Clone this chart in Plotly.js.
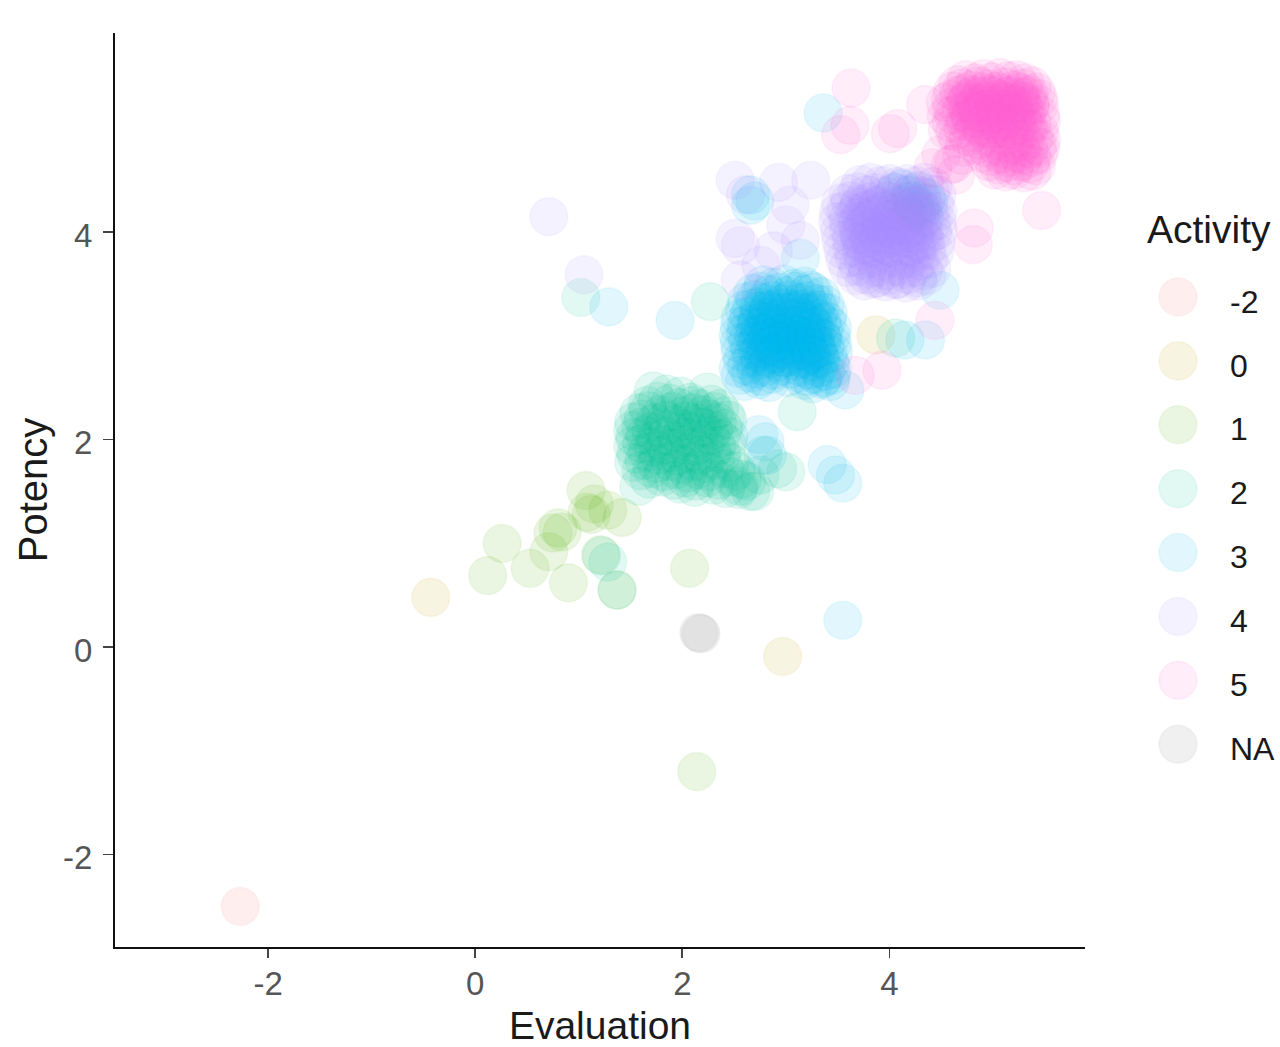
<!DOCTYPE html>
<html><head><meta charset="utf-8">
<script src="https://cdn.plot.ly/plotly-3.0.1.min.js"></script>
<style>html,body{margin:0;padding:0;background:#fff}</style></head>
<body><div id="chart" style="width:1280px;height:1047px"></div>
<script>
const legendLabels=["-2","0","1","2","3","4","5","NA"];
const colours=["248,118,109","196,154,0","83,180,0","0,192,148","0,182,235","165,138,255","251,97,215","127,127,127"];

const xNA=[2.16,2.18];
const yNA=[0.14,0.13];
const xm2=[-2.27];
const ym2=[-2.50];
const x0=[-0.43,2.97,3.87];
const y0=[0.48,-0.09,3.01];
const x1=[2.14,2.07,0.12,0.26,0.53,0.71,0.90,0.75,0.84,1.07,1.08,1.28,1.42,1.21,0.80,1.15,1.12,1.37];
const y1=[-1.20,0.76,0.69,1.00,0.76,0.92,0.62,1.10,1.11,1.51,1.30,1.32,1.25,0.89,1.15,1.38,1.28,0.55];
const x2=[1.22,1.37,1.28,2.27,1.02,3.11,4.06,3.0,2.75,2.55,2.78,2.92,2.62,2.70,
1.72,1.85,1.98,2.10,2.24,
1.66,1.76,1.88,1.97,2.08,2.17,2.28,2.36,
1.58,1.67,1.79,1.90,2.00,2.11,2.20,2.31,2.42,
1.53,1.62,1.73,1.84,1.93,2.04,2.14,2.25,2.34,2.44,
1.52,1.60,1.70,1.81,1.92,2.01,2.09,2.19,2.30,2.40,
1.54,1.64,1.74,1.85,1.95,2.05,2.16,2.27,2.37,2.45,
1.52,1.61,1.72,1.83,1.91,2.02,2.12,2.22,2.33,2.43,
1.55,1.66,1.77,1.86,1.96,2.07,2.18,2.29,2.38,
1.53,1.63,1.75,1.88,1.99,2.10,2.21,2.32,2.46,
1.60,1.71,1.82,1.94,2.06,2.15,2.26,2.41,2.52,
1.68,1.80,1.92,2.03,2.13,2.24,2.35,2.47,2.58,
1.58,1.98,2.12,2.30,2.42,2.54,2.66];
const y2=[0.88,0.55,0.82,3.33,3.37,2.27,2.98,1.69,1.66,1.55,1.85,1.72,1.60,1.50,
2.47,2.44,2.42,2.33,2.46,
2.33,2.37,2.35,2.31,2.36,2.30,2.34,2.30,
2.26,2.28,2.24,2.27,2.23,2.26,2.24,2.27,2.23,
2.17,2.20,2.16,2.19,2.15,2.18,2.16,2.20,2.17,2.19,
2.09,2.12,2.08,2.11,2.07,2.10,2.08,2.12,2.09,2.11,
2.02,2.04,2.00,2.03,1.99,2.02,2.00,2.04,2.01,2.03,
1.94,1.96,1.93,1.95,1.92,1.95,1.93,1.96,1.94,1.96,
1.86,1.88,1.85,1.87,1.84,1.87,1.85,1.88,1.86,
1.78,1.80,1.77,1.79,1.76,1.79,1.77,1.80,1.78,
1.70,1.72,1.69,1.71,1.68,1.71,1.69,1.72,1.70,
1.62,1.64,1.61,1.63,1.60,1.63,1.61,1.64,1.62,
1.55,1.57,1.54,1.56,1.53,1.52,1.50];
const x3=[3.55,3.36,1.29,1.93,3.40,3.55,3.48,2.66,2.66,2.70,3.14,4.49,4.35,4.15,3.57,2.82,2.80,2.74,
4.05,4.12,4.20,4.28,4.36,4.14,4.22,4.30,4.38,4.18,4.26,4.34,
2.78,2.88,2.98,3.08,3.18,3.24,
2.68,2.76,2.84,2.93,3.02,3.10,3.19,3.27,3.34,
2.62,2.70,2.79,2.87,2.96,3.04,3.13,3.21,3.30,3.38,
2.60,2.67,2.75,2.83,2.91,3.00,3.08,3.16,3.25,3.33,3.41,
2.56,2.64,2.72,2.80,2.89,2.97,3.06,3.14,3.23,3.31,3.40,
2.55,2.62,2.70,2.78,2.86,2.94,3.03,3.11,3.20,3.28,3.37,3.45,
2.54,2.61,2.69,2.77,2.85,2.93,3.01,3.09,3.18,3.26,3.35,3.44,
2.55,2.63,2.71,2.79,2.87,2.95,3.04,3.12,3.21,3.29,3.38,3.45,
2.56,2.65,2.73,2.81,2.90,2.98,3.07,3.15,3.24,3.32,3.41,3.46,
2.58,2.67,2.75,2.84,2.92,3.00,3.09,3.17,3.26,3.34,3.43,
2.54,2.62,2.71,2.80,2.88,2.97,3.05,3.14,3.23,3.31,3.39,3.45,
2.56,2.66,2.76,2.86,3.02,3.12,3.20,3.28,3.36,3.44,
2.60,2.74,2.84,3.18,3.26,3.35,3.43,
2.74,2.83,2.92,3.01,3.10,3.19,3.28,2.72,2.81,2.90,2.99,3.08,3.17,3.26,3.35,
2.75,2.84,2.93,3.02,3.11,3.20,3.29,2.73,2.82,2.91,3.00,3.09,3.18,3.27,3.36,
2.76,2.85,2.94,3.03,3.12,3.21,3.30,2.79,2.88,2.97,3.06,3.15,3.24,3.33];
const y3=[0.26,5.15,3.28,3.15,1.76,1.58,1.66,4.26,4.36,4.30,3.75,3.44,2.96,2.96,2.48,1.85,1.98,2.05,
4.38,4.42,4.36,4.40,4.33,4.26,4.30,4.24,4.28,4.16,4.20,4.14,
3.49,3.47,3.50,3.46,3.48,3.44,
3.41,3.43,3.40,3.42,3.39,3.43,3.40,3.42,3.38,
3.33,3.35,3.32,3.34,3.31,3.35,3.32,3.34,3.31,3.30,
3.25,3.27,3.24,3.26,3.23,3.27,3.24,3.26,3.23,3.25,3.22,
3.17,3.19,3.16,3.18,3.15,3.19,3.16,3.18,3.15,3.17,3.14,
3.09,3.11,3.08,3.10,3.07,3.11,3.08,3.10,3.07,3.09,3.06,3.08,
3.01,3.03,3.00,3.02,2.99,3.03,3.00,3.02,2.99,3.01,2.98,3.00,
2.93,2.95,2.92,2.94,2.91,2.95,2.92,2.94,2.91,2.93,2.90,2.92,
2.85,2.87,2.84,2.86,2.83,2.87,2.84,2.86,2.83,2.85,2.82,2.84,
2.77,2.79,2.76,2.78,2.75,2.79,2.76,2.78,2.75,2.77,2.74,
2.69,2.71,2.68,2.70,2.67,2.71,2.68,2.70,2.67,2.69,2.66,2.68,
2.62,2.64,2.61,2.63,2.60,2.64,2.61,2.63,2.60,2.62,
2.56,2.58,2.55,2.57,2.54,2.58,2.56,
3.28,3.24,3.27,3.23,3.26,3.22,3.25,3.12,3.14,3.11,3.13,3.10,3.14,3.11,3.13,
3.03,3.05,3.02,3.04,3.01,3.05,3.02,2.96,2.98,2.95,2.97,2.94,2.98,2.95,2.97,
2.88,2.90,2.87,2.89,2.86,2.90,2.87,2.80,2.82,2.79,2.81,2.78,2.82,2.79];
const x4=[0.71,1.05,2.51,2.56,2.51,2.61,2.93,3.04,3.00,3.24,2.56,2.76,2.88,3.14,
3.72,3.82,3.92,4.00,4.08,4.17,4.26,4.34,4.42,
3.60,3.69,3.78,3.87,3.96,4.05,4.14,4.22,4.31,4.40,4.46,
3.53,3.62,3.71,3.80,3.89,3.98,4.07,4.16,4.25,4.33,4.44,
3.51,3.58,3.67,3.76,3.85,3.94,4.03,4.12,4.21,4.30,4.39,4.47,
3.50,3.60,3.69,3.78,3.87,3.96,4.05,4.14,4.23,4.32,4.41,4.46,
3.52,3.61,3.70,3.79,3.88,3.97,4.06,4.15,4.24,4.33,4.42,4.47,
3.53,3.63,3.72,3.81,3.90,3.99,4.08,4.17,4.26,4.35,4.45,
3.55,3.64,3.73,3.82,3.91,4.00,4.09,4.18,4.27,4.36,4.44,
3.57,3.66,3.75,3.84,3.93,4.02,4.11,4.20,4.29,4.38,
3.60,3.70,3.79,3.88,3.97,4.06,4.15,4.24,4.33,4.41,
3.68,3.78,3.88,3.98,4.08,4.18,4.27,4.36,
3.76,3.86,3.96,4.06,4.16,4.28,
3.70,3.79,3.88,3.97,4.06,4.15,4.24,4.32,3.72,3.81,3.90,3.99,4.08,4.17,4.26,
3.74,3.83,3.92,4.01,4.10,4.19,4.28,3.71,3.80,3.89,3.98,4.07,4.16,4.25,4.33,
3.75,3.84,3.93,4.02,4.11,4.20,4.29];
const y4=[4.15,3.59,3.94,3.87,4.50,4.36,4.48,4.26,4.07,4.50,3.54,3.68,3.82,3.92,
4.46,4.48,4.45,4.47,4.44,4.47,4.45,4.48,4.44,
4.37,4.39,4.36,4.38,4.35,4.39,4.36,4.38,4.35,4.37,4.36,
4.28,4.30,4.27,4.29,4.26,4.30,4.27,4.29,4.26,4.28,4.27,
4.19,4.21,4.18,4.20,4.17,4.21,4.18,4.20,4.17,4.19,4.18,4.20,
4.10,4.12,4.09,4.11,4.08,4.12,4.09,4.11,4.08,4.10,4.09,4.11,
4.01,4.03,4.00,4.02,3.99,4.03,4.00,4.02,3.99,4.01,4.00,4.02,
3.92,3.94,3.91,3.93,3.90,3.94,3.91,3.93,3.90,3.92,3.91,
3.83,3.85,3.82,3.84,3.81,3.85,3.82,3.84,3.81,3.83,3.82,
3.74,3.76,3.73,3.75,3.72,3.76,3.73,3.75,3.72,3.74,
3.66,3.67,3.64,3.66,3.63,3.67,3.64,3.66,3.63,3.65,
3.58,3.59,3.56,3.58,3.55,3.59,3.56,3.58,
3.53,3.55,3.52,3.54,3.51,3.53,
4.24,4.22,4.25,4.21,4.24,4.22,4.25,4.21,4.15,4.13,4.16,4.12,4.15,4.13,4.16,
4.06,4.04,4.07,4.03,4.06,4.04,4.07,3.97,3.95,3.98,3.94,3.97,3.95,3.98,3.94,
3.88,3.86,3.89,3.85,3.88,3.86,3.89];
const x5=[3.63,3.62,3.53,4.08,4.01,5.47,4.82,4.81,4.44,3.93,4.35,4.59,4.42,3.67,4.50,4.64,4.54,4.55,4.56,
4.66,4.74,4.83,4.91,4.99,5.07,5.15,5.23,5.31,5.38,
4.61,4.70,4.79,4.86,4.95,5.04,5.12,5.21,5.29,5.42,
4.59,4.67,4.76,4.88,4.97,5.06,5.14,5.26,5.35,5.44,
4.60,4.72,4.81,4.91,5.00,5.09,5.18,5.27,5.36,5.45,
4.62,4.69,4.78,4.87,4.96,5.05,5.16,5.24,5.33,5.46,
4.60,4.73,4.83,4.93,5.02,5.11,5.20,5.29,5.38,5.47,
4.63,4.71,4.80,4.90,4.99,5.08,5.17,5.26,5.35,5.45,
4.66,4.76,4.86,4.96,5.04,5.13,5.22,5.31,5.40,5.47,
4.72,4.84,4.94,5.03,5.11,5.19,5.27,5.35,5.43,5.46,
4.70,4.90,4.98,5.07,5.15,5.23,5.30,5.38,5.44,
4.62,4.96,5.05,5.13,5.21,5.28,5.36,5.42,
5.02,5.12,5.20,5.30,5.38,
4.72,4.81,4.90,4.99,5.08,5.17,5.26,5.33,4.74,4.83,4.92,5.01,5.10,5.19,5.28,5.36,
4.76,4.85,4.94,5.03,5.12,5.21,5.30,4.78,4.87,4.96,5.05,5.14,5.23,5.32,
4.88,4.97,5.06,5.15,5.24,5.33];
const y5=[5.39,5.03,4.94,5.00,4.95,4.21,4.04,3.88,3.15,2.67,5.23,4.65,4.62,2.62,4.75,4.55,5.25,5.12,4.98,
5.42,5.47,5.44,5.48,5.45,5.49,5.46,5.47,5.44,5.41,
5.36,5.39,5.37,5.41,5.38,5.36,5.40,5.37,5.39,5.35,
5.28,5.32,5.29,5.31,5.33,5.28,5.31,5.30,5.33,5.29,
5.20,5.24,5.21,5.23,5.20,5.24,5.22,5.25,5.21,5.23,
5.13,5.16,5.12,5.15,5.13,5.16,5.14,5.12,5.16,5.13,
5.05,5.07,5.04,5.08,5.05,5.07,5.04,5.08,5.05,5.07,
4.97,5.00,4.96,4.99,4.97,5.00,4.98,4.96,5.00,4.97,
4.90,4.92,4.89,4.91,4.88,4.92,4.90,4.88,4.91,4.89,
4.82,4.84,4.81,4.83,4.80,4.84,4.82,4.80,4.83,4.81,
4.74,4.76,4.73,4.75,4.72,4.76,4.74,4.72,4.75,
4.66,4.68,4.65,4.67,4.64,4.68,4.66,4.64,
4.60,4.58,4.60,4.57,4.59,
5.34,5.32,5.35,5.31,5.34,5.32,5.35,5.31,5.26,5.24,5.27,5.23,5.26,5.24,5.27,5.23,
5.18,5.16,5.19,5.15,5.18,5.16,5.19,5.10,5.08,5.11,5.07,5.10,5.08,5.11,
5.02,5.00,5.03,4.99,5.02,5.00];

const xs=[xm2,x0,x1,x2,x3,x4,x5,xNA];
const ys=[ym2,y0,y1,y2,y3,y4,y5,yNA];
const FILL=0.115, EDGE=0.07, SIZE=38;
const marker=(c)=>({size:SIZE,color:`rgba(${c},${FILL})`,line:{color:`rgba(${c},${EDGE})`,width:1.6}});
const FONT="Liberation Sans, Arial, sans-serif";

const traces=legendLabels.map((name,i)=>({type:"scatter",mode:"markers",x:xs[i],y:ys[i],name,
  marker:marker(colours[i]),hoverinfo:"x+y+name",cliponaxis:false}));
const rows=legendLabels.map((_,i)=>i);
legendLabels.forEach((name,i)=>traces.push({type:"scatter",mode:"markers",x:[43],y:[rows[i]],xaxis:"x2",yaxis:"y2",
  marker:marker(colours[i]),hoverinfo:"skip",cliponaxis:false}));
traces.push({type:"scatter",mode:"text",x:rows.map(()=>95),y:rows.map(r=>r+0.12),text:legendLabels,xaxis:"x2",yaxis:"y2",
  textposition:"middle right",textfont:{family:FONT,size:32,color:"#1a1a1a"},hoverinfo:"skip",cliponaxis:false});

const layout={width:1280,height:1047,showlegend:false,paper_bgcolor:"#fff",plot_bgcolor:"#fff",
  margin:{l:0,r:0,t:0,b:0},font:{family:FONT},
  xaxis:{domain:[115/1280,1085/1280],range:[-3.48,5.89],tickvals:[-2,0,2,4],ticktext:["-2","0","2","4"],
    showgrid:false,zeroline:false,showline:true,linecolor:"#111",linewidth:2,ticks:"outside",ticklen:9,tickcolor:"#444",tickwidth:1.6,
    tickfont:{size:33,color:"#555",family:FONT},automargin:false,ticklabelstandoff:-3,
    title:{text:"Evaluation",font:{size:39,color:"#1a1a1a",family:FONT},standoff:19}},
  yaxis:{domain:[100/1047,1014/1047],range:[-2.89,5.92],tickvals:[-2,0,2,4],ticktext:["-2","0","2","4"],
    showgrid:false,zeroline:false,showline:true,linecolor:"#111",linewidth:2,ticks:"outside",ticklen:10,tickcolor:"#444",tickwidth:1.6,
    tickfont:{size:33,color:"#555",family:FONT},automargin:false,ticklabelstandoff:4,ticklabelshift:3,
    title:{text:"Potency",font:{size:40,color:"#1a1a1a",family:FONT},standoff:3}},
  xaxis2:{domain:[1135/1280,1],range:[0,145],visible:false,fixedrange:true,anchor:"y2"},
  yaxis2:{domain:[0,1],range:[11.74,-4.65],visible:false,fixedrange:true,anchor:"x2"},
  annotations:[{xref:"paper",yref:"paper",x:1145/1280,y:1-230/1047,xanchor:"left",yanchor:"middle",showarrow:false,
    text:"Activity",font:{size:39,color:"#1a1a1a",family:FONT}}]};
Plotly.newPlot("chart",traces,layout,{displayModeBar:false,staticPlot:true});
</script></body></html>
